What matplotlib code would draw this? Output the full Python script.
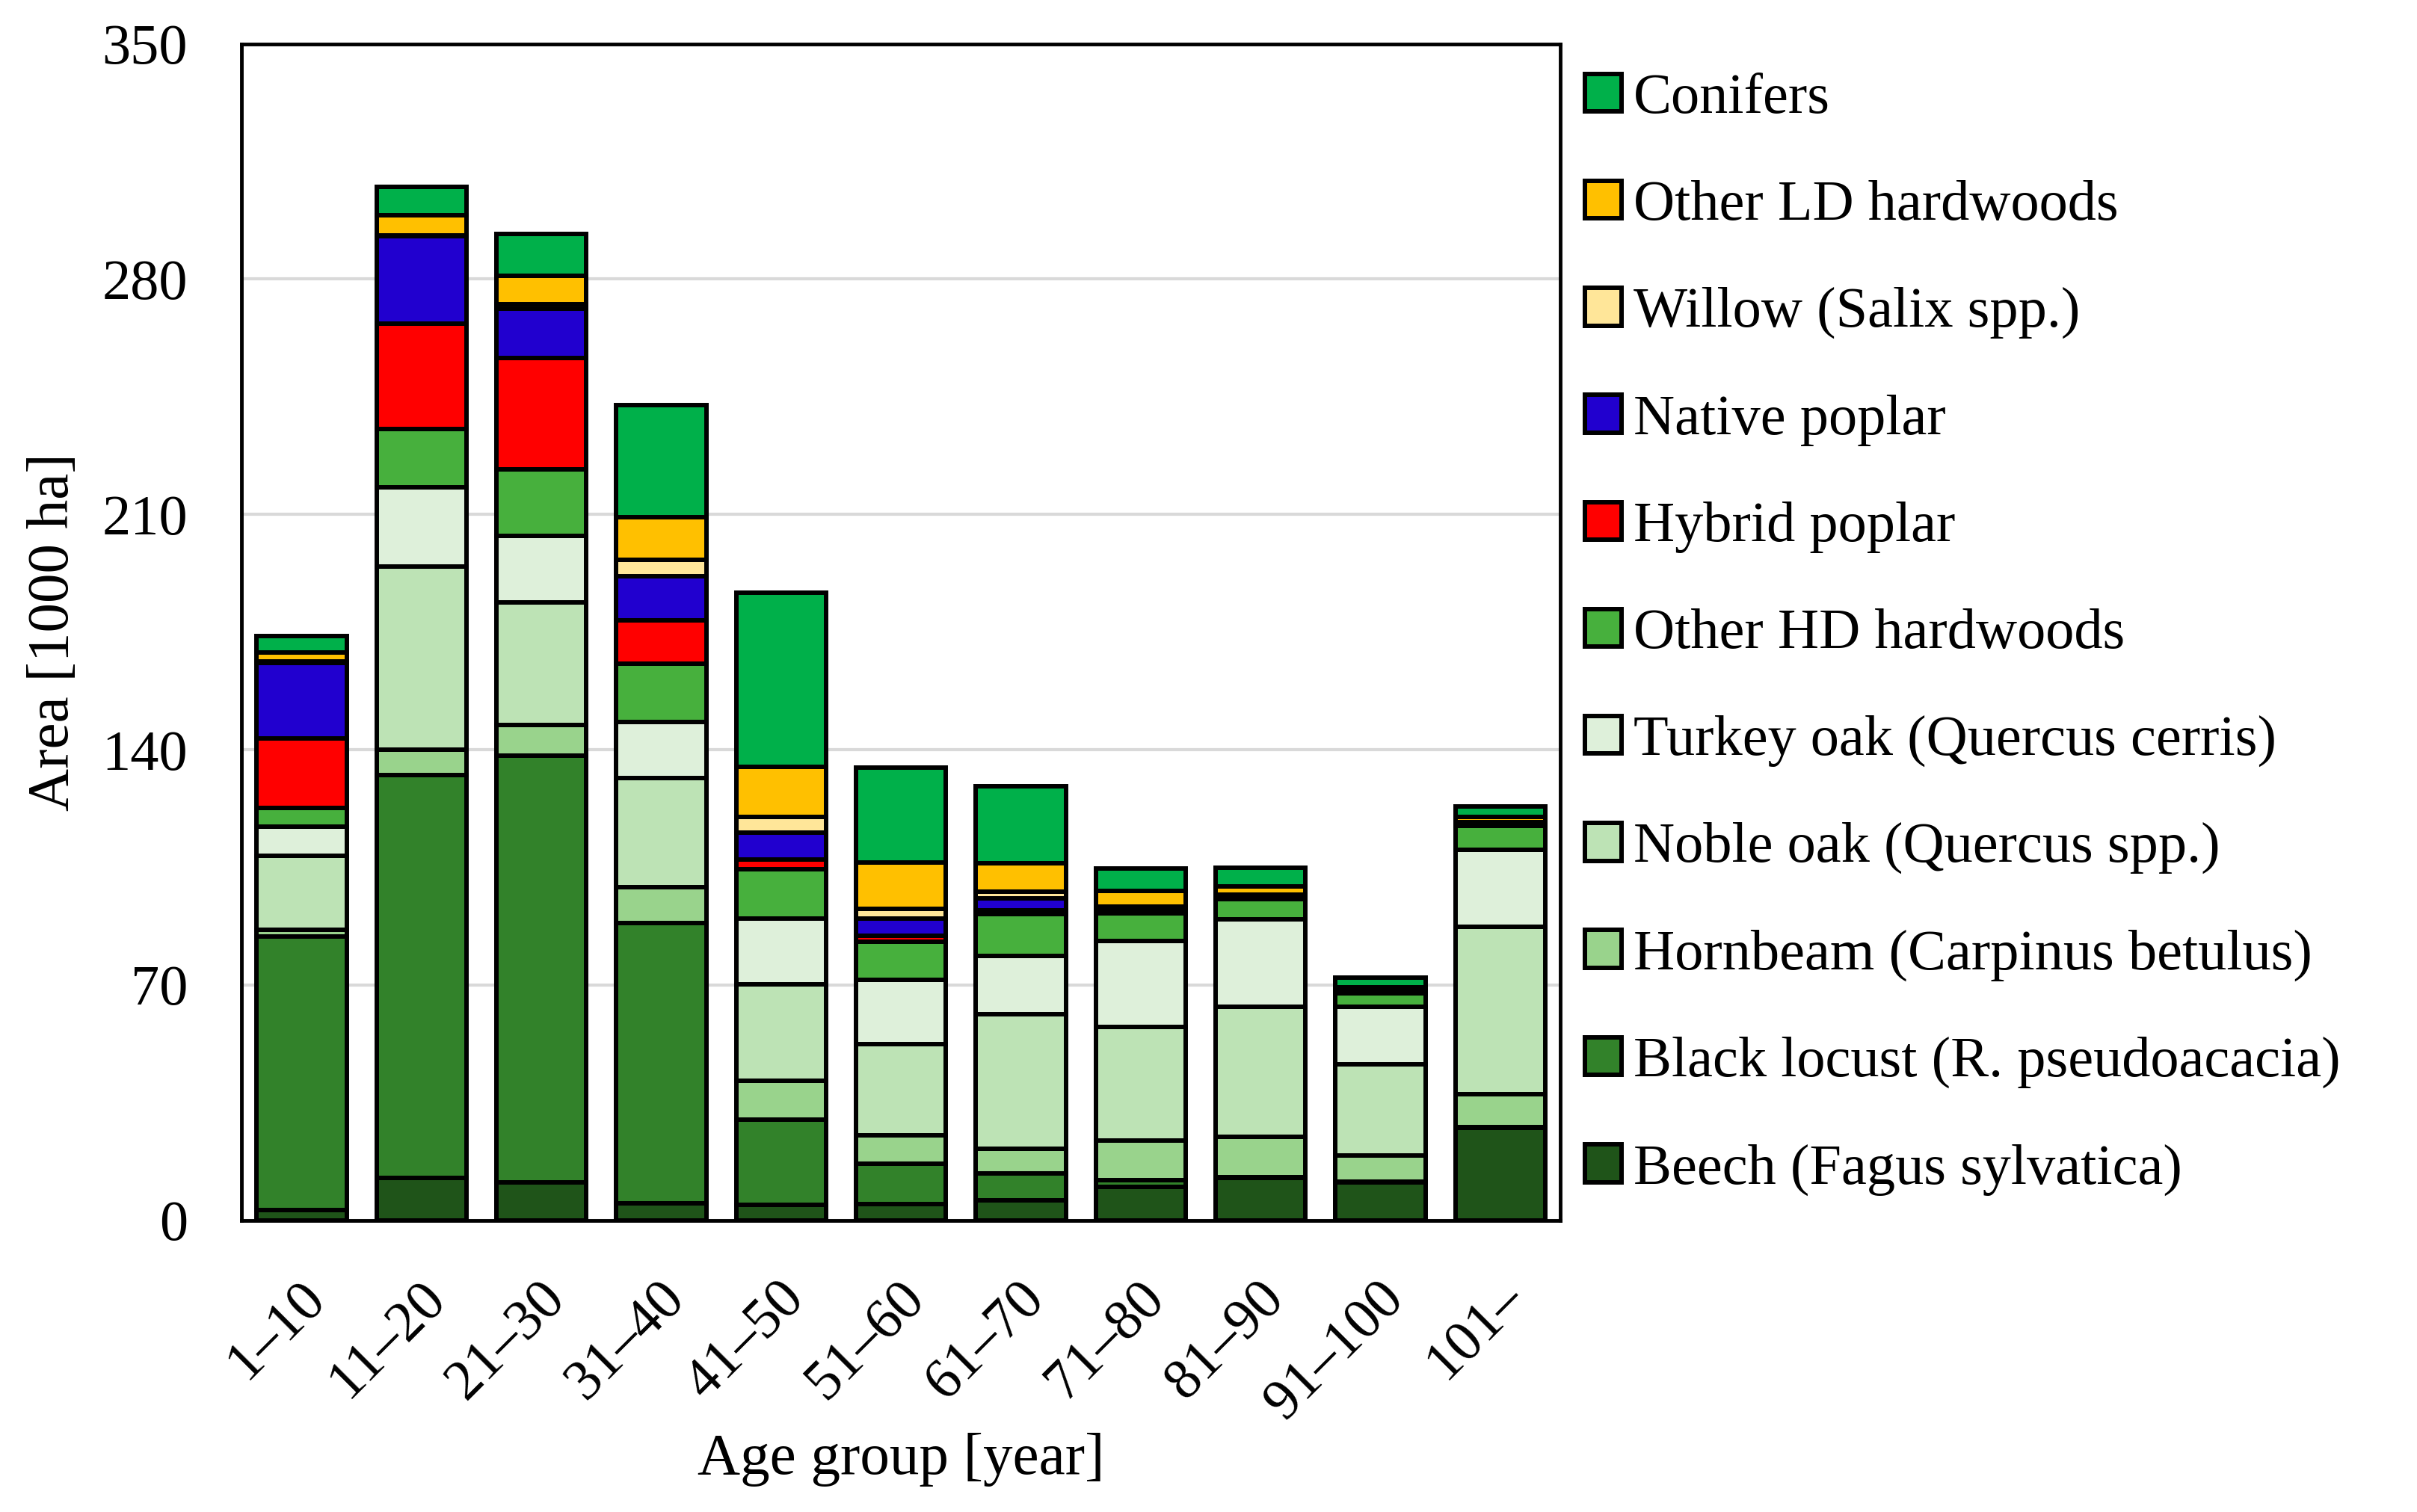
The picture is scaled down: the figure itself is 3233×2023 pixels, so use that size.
import numpy as np
import matplotlib
matplotlib.use("Agg")
import matplotlib.pyplot as plt
import matplotlib.transforms as mtransforms

plt.rcParams['font.family'] = ['Liberation Serif', 'DejaVu Serif']

age_groups = ["1\u201310", "11\u201320", "21\u201330", "31\u201340", "41\u201350", "51\u201360",
              "61\u201370", "71\u201380", "81\u201390", "91\u2013100", "101\u2013"]

# area per species group [1000 ha], bottom to top of each stack
beech        = [3.0, 12.5, 11.3, 5.0, 4.6, 4.7, 6.0, 10.0, 12.6, 11.2, 27.5]
black_locust = [81.5, 120.0, 127.0, 83.3, 25.4, 12.0, 7.9, 1.8, 0.3, 0.3, 0.3]
hornbeam     = [2.0, 7.5, 9.0, 10.7, 11.4, 8.6, 7.4, 11.9, 11.8, 7.8, 9.7]
noble_oak    = [22.0, 54.5, 36.6, 32.5, 28.8, 27.0, 39.9, 33.7, 38.7, 27.0, 49.9]
turkey_oak   = [8.5, 23.5, 19.7, 16.8, 19.6, 19.2, 17.5, 25.7, 26.1, 17.2, 22.8]
other_hd     = [5.7, 17.5, 19.8, 17.3, 14.7, 11.3, 12.3, 8.3, 6.0, 4.0, 7.2]
hybrid_pop   = [20.6, 31.3, 33.1, 12.8, 2.7, 1.8, 1.1, 0.5, 0.4, 0.3, 0.3]
native_pop   = [22.6, 25.9, 14.8, 13.3, 8.2, 5.2, 3.7, 1.0, 0.5, 0.4, 0.3]
willow       = [0.4, 0.4, 1.2, 4.7, 4.5, 2.9, 2.0, 0.5, 0.4, 0.4, 0.5]
other_ld     = [2.7, 5.9, 8.4, 12.8, 15.0, 13.7, 8.3, 4.5, 2.5, 0.6, 1.5]
conifers     = [4.9, 8.5, 12.6, 33.3, 51.9, 28.2, 23.1, 6.8, 5.5, 3.0, 3.1]

series = [
    ("Beech (Fagus sylvatica)", beech, "#1f5419"),
    ("Black locust (R. pseudoacacia)", black_locust, "#32822a"),
    ("Hornbeam (Carpinus betulus)", hornbeam, "#99d38c"),
    ("Noble oak (Quercus spp.)", noble_oak, "#bde3b5"),
    ("Turkey oak (Quercus cerris)", turkey_oak, "#def0da"),
    ("Other HD hardwoods", other_hd, "#47b03d"),
    ("Hybrid poplar", hybrid_pop, "#ff0000"),
    ("Native poplar", native_pop, "#2100cf"),
    ("Willow (Salix spp.)", willow, "#ffe699"),
    ("Other LD hardwoods", other_ld, "#ffc000"),
    ("Conifers", conifers, "#00b04a"),
]

FS = 55

fig = plt.figure(figsize=(32.33, 20.23), dpi=100)
ax = fig.add_axes([0.100, 0.193, 0.5455, 0.778])

x = np.arange(len(age_groups))
bottom = np.zeros(len(age_groups))
handles = []
for name, vals, col in series:
    b = ax.bar(x, vals, 0.75, bottom=bottom, color=col, edgecolor="black",
               linewidth=4.3, label=name, zorder=3)
    handles.append(b)
    bottom += np.array(vals)

ax.set_xlim(-0.5, len(age_groups) - 0.5)
ax.set_ylim(0, 350)
ax.set_yticks(np.arange(0, 351, 70))
ax.yaxis.grid(True, color="#d9d9d9", linewidth=3, zorder=0)
ax.set_axisbelow(True)
for s in ax.spines.values():
    s.set_linewidth(3.5)
ax.tick_params(axis="y", length=0, labelsize=FS, pad=52)
ax.tick_params(axis="x", length=0, labelsize=FS, pad=50)
ax.set_xticks(x)
ax.set_xticklabels(age_groups, rotation=45, ha="right", rotation_mode="anchor")
shift = mtransforms.ScaledTranslation(-4 / 100, 0, fig.dpi_scale_trans)
for lab in ax.get_xticklabels():
    lab.set_transform(lab.get_transform() + shift)

ax.set_ylabel("Area [1000 ha]", fontsize=FS + 2)
ax.yaxis.set_label_coords(-0.122, 0.5)
ax.set_xlabel("Age group [year]", fontsize=FS + 2)
ax.xaxis.set_label_coords(0.5, -0.181)

leg = ax.legend(handles[::-1], [s[0] for s in series][::-1], loc="center left",
                bbox_to_anchor=(1.019, 0.498), frameon=False, fontsize=FS,
                handlelength=0.64, handleheight=0.64, handletextpad=0.2,
                labelspacing=0.97, borderaxespad=0, borderpad=0)

fig.savefig("out.png", dpi=100)
